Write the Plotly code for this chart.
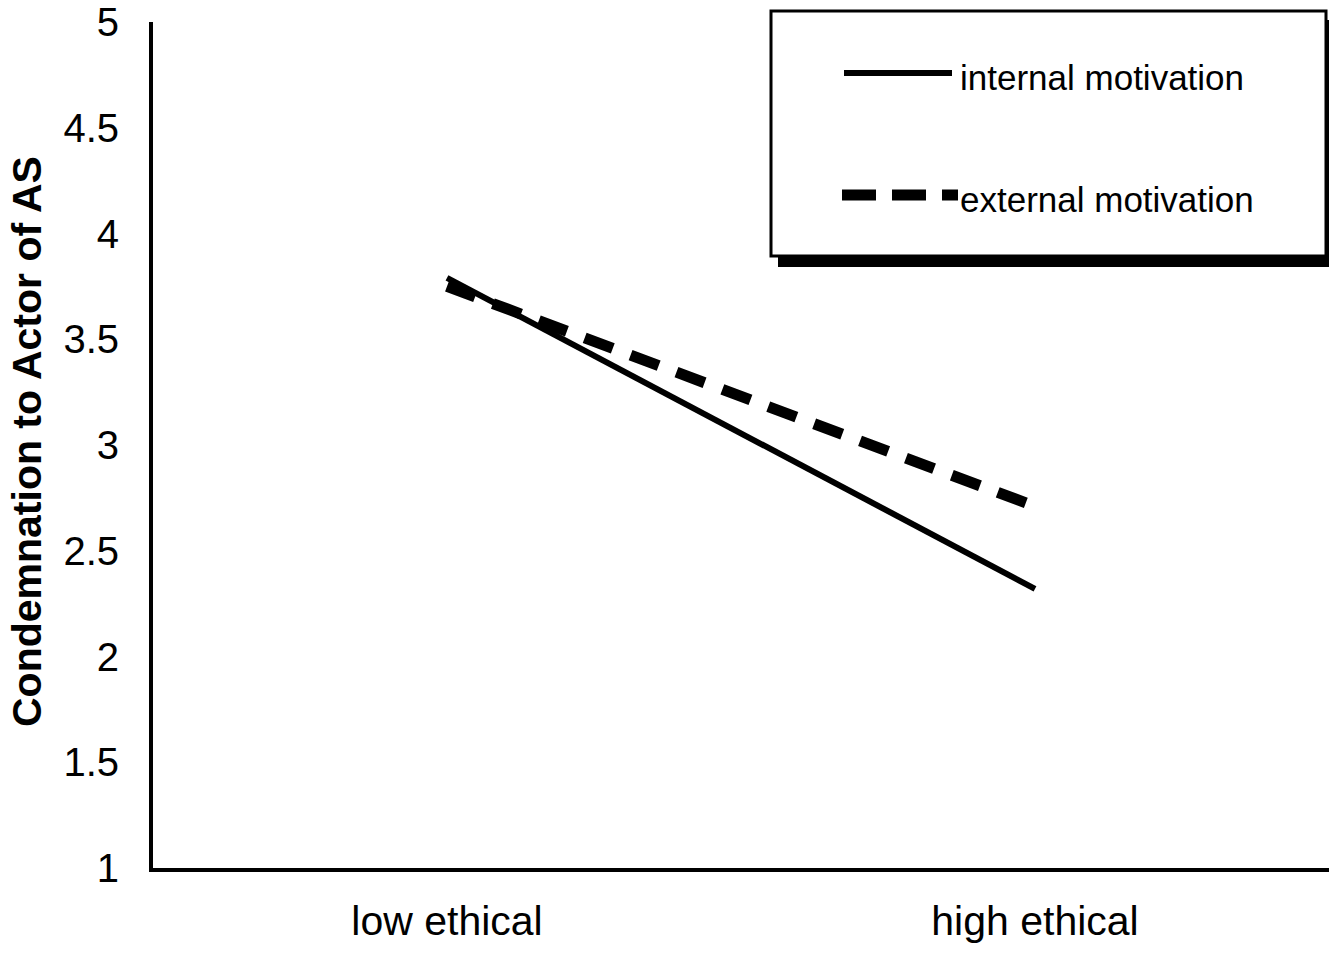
import plotly.graph_objects as go

# ---- data ----
categories = ["low ethical", "high ethical"]
internal_motivation = [3.79, 2.32]
external_motivation = [3.75, 2.71]
series_names = ["internal motivation", "external motivation"]
y_tick_vals = [1, 1.5, 2, 2.5, 3, 3.5, 4, 4.5, 5]
y_tick_text = ["1", "1.5", "2", "2.5", "3", "3.5", "4", "4.5", "5"]
y_title = "Condemnation to Actor of AS"

# ---- layout geometry (pixels, in page coordinates; page body adds an 8px offset) ----
OFF = 8
W_FIG, H_FIG = 1338 - 2 * OFF, 954 - 2 * OFF
AX_LEFT, AX_RIGHT, AX_TOP, AX_BOTTOM = 153, 1329, 22, 868
L = AX_LEFT - OFF
R = W_FIG - (AX_RIGHT - OFF)
T = AX_TOP - OFF
B = H_FIG - (AX_BOTTOM - OFF)
PW = AX_RIGHT - AX_LEFT
PH = AX_BOTTOM - AX_TOP


def px(x):
    return (x - AX_LEFT) / PW


def py(y):
    return (AX_BOTTOM - y) / PH


FONT = "Liberation Sans, Arial, sans-serif"

fig = go.Figure()
fig.add_trace(go.Scatter(
    x=categories, y=internal_motivation, mode="lines", name=series_names[0],
    line=dict(color="black", width=6), showlegend=False))
fig.add_trace(go.Scatter(
    x=categories, y=external_motivation, mode="lines", name=series_names[1],
    line=dict(color="black", width=11, dash="30px,19px"), showlegend=False))

shapes = [
    # legend shadow
    dict(type="rect", xref="paper", yref="paper", x0=px(778), x1=px(1329),
         y0=py(267), y1=py(20), fillcolor="black", line=dict(width=0), layer="above"),
    # legend box
    dict(type="rect", xref="paper", yref="paper", x0=px(771), x1=px(1326),
         y0=py(256), y1=py(11), fillcolor="white", line=dict(color="black", width=3),
         layer="above"),
    # legend samples
    dict(type="line", xref="paper", yref="paper", x0=px(844), x1=px(952),
         y0=py(73), y1=py(73), line=dict(color="black", width=6), layer="above"),
    dict(type="line", xref="paper", yref="paper", x0=px(842), x1=px(958),
         y0=py(195), y1=py(195), line=dict(color="black", width=11, dash="34px,16px"),
         layer="above"),
]

annotations = [
    dict(text=series_names[0], xref="paper", yref="paper", x=px(958), y=py(77),
         xanchor="left", yanchor="middle", showarrow=False,
         font=dict(family=FONT, size=35, color="black")),
    dict(text=series_names[1], xref="paper", yref="paper", x=px(958), y=py(199),
         xanchor="left", yanchor="middle", showarrow=False,
         font=dict(family=FONT, size=35, color="black")),
    dict(text="<b>" + y_title + "</b>", xref="paper", yref="paper", x=px(27), y=py(442),
         xanchor="center", yanchor="middle", textangle=-90, showarrow=False,
         font=dict(family=FONT, size=41, color="black")),
]

fig.update_layout(
    width=W_FIG, height=H_FIG,
    margin=dict(l=L, r=R, t=T, b=B, autoexpand=False),
    paper_bgcolor="white", plot_bgcolor="white",
    showlegend=False,
    shapes=shapes, annotations=annotations,
    xaxis=dict(type="category", range=[-0.5, 1.5], showline=True, linecolor="black",
               linewidth=4, showgrid=False, zeroline=False, ticks="",
               ticklabelstandoff=14, ticklabeloverflow="allow",
               tickfont=dict(family=FONT, size=41, color="black")),
    yaxis=dict(range=[1, 5], tickvals=y_tick_vals, ticktext=y_tick_text,
               showline=True, linecolor="black", linewidth=4, showgrid=False,
               zeroline=False, ticks="", ticklabelstandoff=22, ticklabeloverflow="allow",
               tickfont=dict(family=FONT, size=40, color="black")),
)

fig.write_html("out.html")
